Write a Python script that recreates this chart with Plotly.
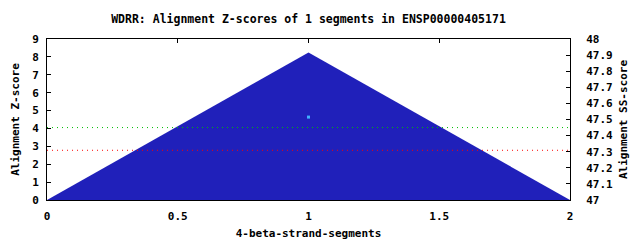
import plotly.graph_objects as go

# Data
seg_x = [0, 1, 2]
zscore = [0, 8.25, 0]
ss_x = [1]
ss_score = [47.515]
green_thr = 4.05
red_thr = 2.78
x_range = [0, 2]
y_range = [0, 9]
y2_range = [47, 48]
x_ticks = [0, 0.5, 1, 1.5, 2]
x_ticklabels = ["0", "0.5", "1", "1.5", "2"]
y2_ticks = [47, 47.1, 47.2, 47.3, 47.4, 47.5, 47.6, 47.7, 47.8, 47.9, 48]
y2_ticklabels = ["47", "47.1", "47.2", "47.3", "47.4", "47.5", "47.6", "47.7",
                 "47.8", "47.9", "48"]

FONT = "DejaVu Sans Mono"
fnt = dict(family=FONT, size=11, color="black", weight="bold")

fig = go.Figure()
fig.add_trace(go.Scatter(x=seg_x, y=zscore, mode="lines", fill="tozeroy",
                         line=dict(color="rgb(32,32,186)", width=0),
                         fillcolor="rgb(32,32,186)", showlegend=False, hoverinfo="skip"))
fig.add_trace(go.Scatter(x=x_range, y=[green_thr, green_thr], mode="lines",
                         line=dict(color="rgb(0,192,0)", width=1, dash="1px,4px"),
                         showlegend=False))
fig.add_trace(go.Scatter(x=x_range, y=[red_thr, red_thr], mode="lines",
                         line=dict(color="rgb(255,0,0)", width=1, dash="1px,4px"),
                         showlegend=False))
fig.add_trace(go.Scatter(x=ss_x, y=ss_score, mode="markers", yaxis="y2",
                         marker=dict(color="rgb(64,176,255)", size=3, symbol="square",
                                     line=dict(width=0)),
                         showlegend=False))
# invisible trace for top mirror-tick axis
fig.add_trace(go.Scatter(x=[0], y=[0], xaxis="x2", mode="markers",
                         marker=dict(opacity=0), showlegend=False, hoverinfo="skip"))

fig.update_layout(
    width=640, height=240,
    margin=dict(l=47, r=70, t=39, b=40, autoexpand=False),
    paper_bgcolor="white", plot_bgcolor="white",
    title=dict(text="WDRR: Alignment Z-scores of 1 segments in ENSP00000405171",
               font=dict(family=FONT, size=11.5, color="black", weight="bold"),
               x=(47 + 570) / 2 / 640, xanchor="center",
               y=1 - 19 / 240, yanchor="middle", yref="container"),
    xaxis=dict(range=x_range, tickvals=x_ticks, ticktext=x_ticklabels,
               showgrid=False, zeroline=False, showline=True, linecolor="black",
               linewidth=1, mirror=True, ticks="", tickfont=fnt,
               ticklabelstandoff=6, automargin=False,
               title=dict(text="4-beta-strand-segments", font=fnt, standoff=8)),
    xaxis2=dict(range=x_range, overlaying="x", side="top", tickvals=x_ticks,
                showticklabels=False, ticks="inside", ticklen=4, tickcolor="black",
                showgrid=False, zeroline=False, showline=False, automargin=False),
    yaxis=dict(range=y_range, dtick=1, showgrid=False, zeroline=False,
               showline=True, linecolor="black", linewidth=1,
               ticks="inside", ticklen=4, tickcolor="black", tickfont=fnt,
               ticklabelstandoff=5, automargin=False,
               title=dict(text="Alignment Z-score", font=fnt, standoff=10)),
    yaxis2=dict(range=y2_range, overlaying="y", side="right",
                showgrid=False, zeroline=False, showline=True, linecolor="black",
                linewidth=1, ticks="inside", ticklen=4, tickcolor="black",
                tickfont=fnt, tickvals=y2_ticks, ticktext=y2_ticklabels,
                ticklabelstandoff=13, automargin=False,
                title=dict(text="Alignment SS-score", font=fnt, standoff=7)),
)

fig.write_html("out.html")
